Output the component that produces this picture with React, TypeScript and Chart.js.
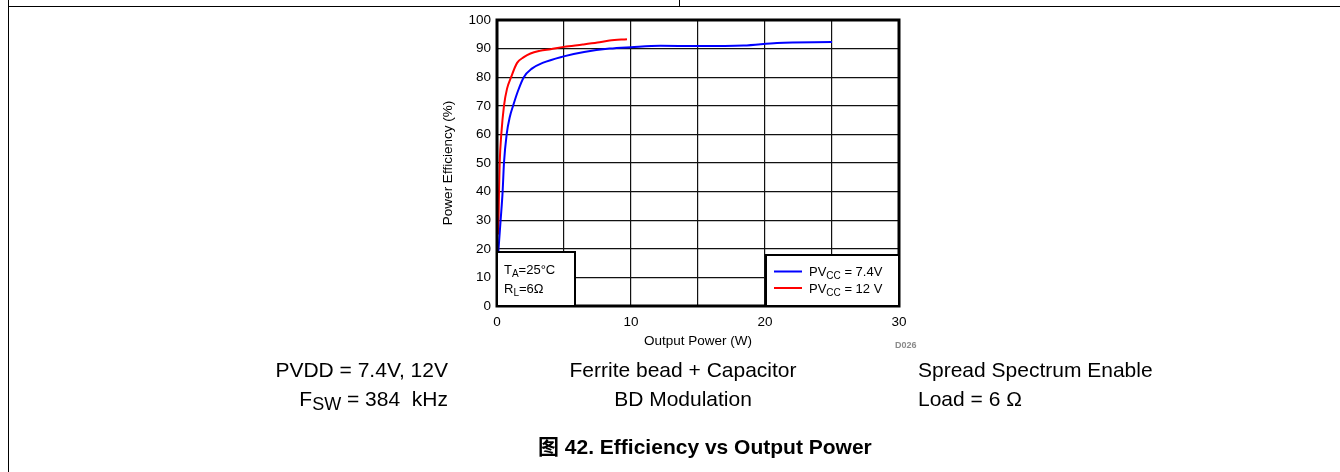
import { useEffect, useRef } from 'react';
import { Chart, registerables } from 'chart.js';

Chart.register(...registerables);

// Output power (W) and efficiency (%) for PVCC = 7.4 V
const powerBlue = [0.1, 0.27, 0.42, 0.52, 0.72, 0.95, 1.2, 1.55, 2.0, 2.6, 3.4, 4.9, 6.5, 8.4, 10, 12.2, 15, 18.4, 20.9, 25];
const effBlue = [19, 30, 40, 50, 60, 66, 70, 75, 80, 83, 85, 87.2, 88.8, 90, 90.5, 91, 90.9, 91.1, 92, 92.3];

// Output power (W) and efficiency (%) for PVCC = 12 V
const powerRed = [0.1, 0.15, 0.2, 0.32, 0.52, 0.75, 1.05, 1.5, 2.0, 2.5, 3.2, 4, 5, 6.4, 7.5, 8.4, 9.7];
const effRed = [25, 40, 50, 60, 70, 76, 80, 85, 87, 88.3, 89.2, 89.8, 90.6, 91.4, 92.1, 92.8, 93.3];

const seriesColors = ['#0000ff', '#ff0000'];
const seriesLabelParts: [string, string, string][] = [
  ['PV', 'CC', ' = 7.4V'],
  ['PV', 'CC', ' = 12 V'],
];
const xTickLabels = ['0', '10', '20', '30'];
const yTickLabels = ['0', '10', '20', '30', '40', '50', '60', '70', '80', '90', '100'];

const FONT = '"Liberation Sans", Arial, "Noto Sans CJK SC", sans-serif';

function drawParts(ctx: CanvasRenderingContext2D, x: number, y: number, parts: [string, boolean][]) {
  let cx = x;
  for (const [t, sub] of parts) {
    ctx.font = sub ? `10px ${FONT}` : `13px ${FONT}`;
    ctx.fillText(t, cx, sub ? y + 3 : y);
    cx += ctx.measureText(t).width;
  }
}

const framePlugin = {
  id: 'frameAndBoxes',
  afterDatasetsDraw(chart: any) {
    const { ctx, chartArea: a } = chart;
    ctx.save();
    ctx.strokeStyle = '#000';
    ctx.lineWidth = 3;
    ctx.strokeRect(a.left, a.top, a.right - a.left, a.bottom - a.top);

    // conditions box (bottom-left)
    const cl = a.left, cr = a.left + 78, ct = a.bottom - 54, cb = a.bottom;
    ctx.fillStyle = '#fff';
    ctx.fillRect(cl, ct, cr - cl, cb - ct);
    ctx.lineWidth = 2;
    ctx.strokeRect(cl, ct, cr - cl, cb - ct);
    ctx.fillStyle = '#000';
    ctx.textBaseline = 'alphabetic';
    ctx.textAlign = 'left';
    drawParts(ctx, cl + 7, ct + 22, [['T', false], ['A', true], ['=25°C', false]]);
    drawParts(ctx, cl + 7, ct + 41, [['R', false], ['L', true], ['=6Ω', false]]);

    // legend box (bottom-right)
    const ll = a.right - 133, lr = a.right, lt = a.bottom - 51, lb = a.bottom;
    ctx.fillStyle = '#fff';
    ctx.fillRect(ll, lt, lr - ll, lb - lt);
    ctx.lineWidth = 2;
    ctx.strokeStyle = '#000';
    ctx.strokeRect(ll, lt, lr - ll, lb - lt);
    seriesLabelParts.forEach((p, i) => {
      const yy = lt + 16.5 + i * 16.5;
      ctx.strokeStyle = seriesColors[i];
      ctx.lineWidth = 2;
      ctx.beginPath();
      ctx.moveTo(ll + 8, yy);
      ctx.lineTo(ll + 36, yy);
      ctx.stroke();
      ctx.fillStyle = '#000';
      drawParts(ctx, ll + 43, yy + 4.5, [[p[0], false], [p[1], true], [p[2], false]]);
    });
    ctx.restore();
  },
};

export default function App() {
  const ref = useRef<HTMLCanvasElement>(null);

  useEffect(() => {
    if (!ref.current) return;
    const chart = new Chart(ref.current, {
      type: 'scatter',
      data: {
        datasets: [
          {
            label: 'PVCC = 7.4V',
            data: powerBlue.map((p, i) => ({ x: p, y: effBlue[i] })),
            showLine: true,
            borderColor: seriesColors[0],
            borderWidth: 2,
            pointRadius: 0,
            cubicInterpolationMode: 'monotone',
          },
          {
            label: 'PVCC = 12 V',
            data: powerRed.map((p, i) => ({ x: p, y: effRed[i] })),
            showLine: true,
            borderColor: seriesColors[1],
            borderWidth: 2,
            pointRadius: 0,
            cubicInterpolationMode: 'monotone',
          },
        ],
      },
      options: {
        responsive: false,
        animation: false,
        layout: { padding: { left: 437, right: 441, top: 20, bottom: 120 } },
        plugins: { legend: { display: false }, tooltip: { enabled: false } },
        scales: {
          x: {
            type: 'linear',
            min: 0,
            max: 30,
            afterFit: (s: any) => { s.height = 46; },
            ticks: {
              stepSize: 5,
              padding: 8,
              color: '#000',
              font: { family: FONT, size: 13.5 },
              callback: (v: any) => {
                const idx = xTickLabels.indexOf(String(v));
                return idx >= 0 ? xTickLabels[idx] : '';
              },
            },
            grid: { color: '#111', lineWidth: 1.2, drawTicks: false },
            border: { display: false },
            title: {
              display: true,
              text: 'Output Power (W)',
              color: '#000',
              font: { family: FONT, size: 13.5 },
              padding: { top: 0, bottom: 3 },
            },
          },
          y: {
            min: 0,
            max: 100,
            afterFit: (s: any) => { s.width = 60; },
            ticks: {
              stepSize: 10,
              padding: 6,
              color: '#000',
              font: { family: FONT, size: 13.5 },
              callback: (v: any) => yTickLabels[Math.round(Number(v) / 10)] ?? '',
            },
            grid: { color: '#111', lineWidth: 1.2, drawTicks: false },
            border: { display: false },
            title: {
              display: true,
              text: 'Power Efficiency (%)',
              color: '#000',
              font: { family: FONT, size: 13.5 },
              padding: { top: 3, bottom: 0 },
            },
          },
        },
      },
      plugins: [framePlugin],
    } as any);
    return () => chart.destroy();
  }, []);

  const txt: React.CSSProperties = {
    position: 'absolute',
    fontSize: 21,
    lineHeight: '21px',
    whiteSpace: 'pre',
    color: '#000',
  };
  const sub: React.CSSProperties = { fontSize: 18, position: 'relative', top: 4 };

  return (
    <div style={{ position: 'absolute', left: 0, top: 0, width: 1340, height: 472, overflow: 'hidden', fontFamily: FONT, background: '#fff' }}>
      <canvas ref={ref} width={1340} height={472} style={{ position: 'absolute', left: 0, top: 0, display: 'block' }} />
      <div style={{ position: 'absolute', left: 8, top: 0, width: 1, height: 472, background: '#000' }} />
      <div style={{ position: 'absolute', left: 8, top: 6, width: 1332, height: 1, background: '#000' }} />
      <div style={{ position: 'absolute', left: 679, top: 0, width: 1, height: 6, background: '#000' }} />
      <div style={{ position: 'absolute', left: 895, top: 341, fontSize: 9, lineHeight: '9px', color: '#8a8a8a', fontWeight: 'bold' }}>D026</div>

      <div style={{ ...txt, right: 1340 - 448, top: 359 }}>PVDD = 7.4V, 12V</div>
      <div style={{ ...txt, right: 1340 - 448, top: 388 }}>F<span style={sub}>SW</span>{' = 384  kHz'}</div>

      <div style={{ ...txt, left: 483, width: 400, textAlign: 'center', top: 359 }}>Ferrite bead + Capacitor</div>
      <div style={{ ...txt, left: 483, width: 400, textAlign: 'center', top: 388 }}>BD Modulation</div>

      <div style={{ ...txt, left: 918, top: 359 }}>Spread Spectrum Enable</div>
      <div style={{ ...txt, left: 918, top: 388 }}>Load = 6 Ω</div>

      <div style={{ ...txt, left: 538, top: 436, fontWeight: 'bold' }}>图 42. Efficiency vs Output Power</div>
    </div>
  );
}
